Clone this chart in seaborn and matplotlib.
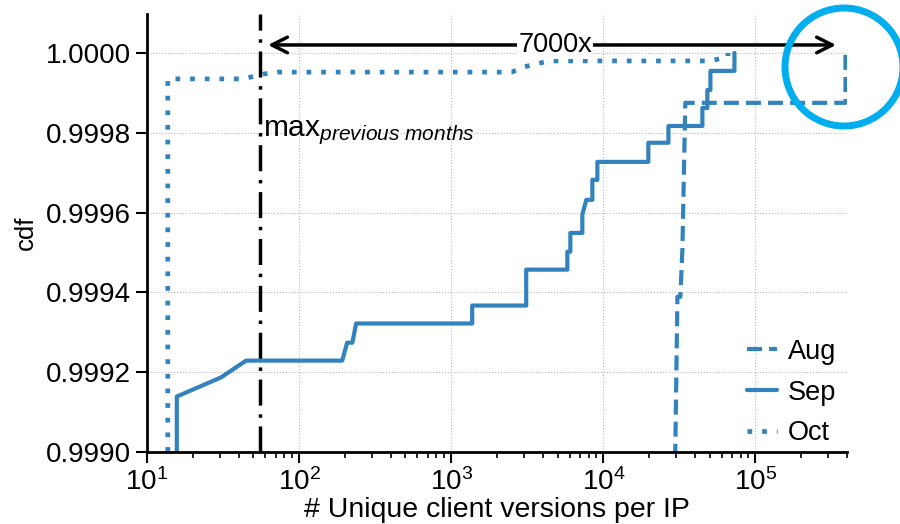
import numpy as np
import pandas as pd
import seaborn as sns
import matplotlib.pyplot as plt
from matplotlib.patches import Ellipse
from matplotlib.lines import Line2D

# CDF points (x = # unique client versions per IP)
aug_x = [28500, 30700, 32100, 33100, 34600, 391000, 391000]
aug_y = [0.9985, 0.999389, 0.999389, 0.999507, 0.999875, 0.999875, 1.0]

sep_x = [15.7, 15.7, 30.7, 44.8, 192, 207, 224, 237, 1374, 1374, 3112, 3112,
         5800, 5800, 6070, 6070, 7280, 7280, 7730, 8470, 8470, 9140, 9140, 19770, 19770,
         26800, 26800, 44800, 44800, 48300, 48300, 50600, 50600, 72800, 72800]
sep_y = [0.998, 0.999139, 0.999187, 0.999229, 0.999229, 0.999274, 0.999274, 0.999322,
         0.999322, 0.999367, 0.999367, 0.999457, 0.999457, 0.999502, 0.999502, 0.999549,
         0.999549, 0.999595, 0.999632, 0.999632, 0.999682, 0.999682, 0.999727, 0.999727,
         0.999775, 0.999775, 0.999817, 0.999817, 0.999862, 0.999862, 0.999907, 0.999907,
         0.999955, 0.999955, 1.0]

oct_x = [13.7, 13.7, 43, 58, 72, 2500, 3000, 4400, 50000, 66000, 66000]
oct_y = [0.998, 0.999935, 0.999935, 0.999947, 0.999952, 0.999952, 0.999965,
         0.99998, 0.99998, 0.99999, 1.0]

prev_max = 55
factor = 7000

blue = "#3182bd"

sns.set_theme(style="ticks")
plt.rcParams["font.family"] = ["Liberation Sans", "DejaVu Sans"]
plt.rcParams["mathtext.fontset"] = "custom"
plt.rcParams["mathtext.rm"] = "Liberation Sans"
plt.rcParams["mathtext.it"] = "Liberation Sans:italic"
for k in ["text.color", "axes.labelcolor", "xtick.color", "ytick.color"]:
    plt.rcParams[k] = "black"

fig = plt.figure(figsize=(9, 5.24), dpi=100)
ax = fig.add_axes([147 / 900, 1 - 452 / 524, 700 / 900, 438 / 524])

lw = 3
ls_aug = (0, (3.6, 1.7))
ls_oct = (0, (1.0, 2.1))
sns.lineplot(x=aug_x, y=aug_y, ax=ax, color=blue, lw=lw, linestyle=ls_aug,
             estimator=None, sort=False)
sns.lineplot(x=sep_x, y=sep_y, ax=ax, color=blue, lw=lw, linestyle="-",
             estimator=None, sort=False)
sns.lineplot(x=oct_x, y=oct_y, ax=ax, color=blue, lw=3.4, linestyle=ls_oct,
             estimator=None, sort=False)

ax.axvline(prev_max, color="black", lw=2.5, linestyle=(0, (7.5, 2.5, 1, 2.5)))

ax.set_xscale("log")
ax.set_xlim(10, 4.0e5)
ax.set_ylim(0.999, 1.0000976)
yt = [0.999, 0.9992, 0.9994, 0.9996, 0.9998, 1.0]
ax.set_yticks(yt)
ax.set_yticklabels(["%.4f" % v for v in yt])

ax.grid(True, which="major", color="#bbbbbb", linestyle=":", lw=0.8)
sns.despine(ax=ax)
for s in ["left", "bottom"]:
    ax.spines[s].set_color("black")
    ax.spines[s].set_linewidth(2)
ax.tick_params(axis="both", which="major", labelsize=20, length=8, width=1.5, color="black")
ax.tick_params(axis="x", which="minor", length=4.5, width=1.2, color="black")

ax.set_xlabel("# Unique client versions per IP", fontsize=20.5, labelpad=1)
ax.set_ylabel("cdf", fontsize=18.5, labelpad=6)

# 7000x arrow
ya = 1.00002
ax.annotate("", xy=(prev_max, ya), xytext=(prev_max * factor, ya),
            arrowprops=dict(arrowstyle="<->", lw=2.5, color="black",
                            mutation_scale=28, shrinkA=6, shrinkB=6))
ax.text(np.sqrt(prev_max * prev_max * factor) * 1.05, ya, "%dx" % factor, fontsize=19.5,
        ha="center", va="center",
        bbox=dict(facecolor="white", edgecolor="none", pad=1))

ax.text(prev_max * 1.05, 0.99980, r"max$_{\mathit{previous\ months}}$",
        fontsize=21.5, ha="left", va="center")

handles = [Line2D([], [], color=blue, lw=lw, linestyle=ls_aug),
           Line2D([], [], color=blue, lw=lw, linestyle="-"),
           Line2D([], [], color=blue, lw=3.4, linestyle=ls_oct)]
ax.legend(handles, ["Aug", "Sep", "Oct"], loc="lower right", frameon=False,
          fontsize=19.5, handlelength=1.1, handletextpad=0.4, labelspacing=0.55,
          borderaxespad=0, bbox_to_anchor=(1.0, -0.012))

circ = Ellipse((844 / 900, 1 - 67 / 524), width=118 / 900, height=118 / 524,
               transform=fig.transFigure, fill=False, edgecolor="#00AEEF", lw=5)
fig.patches.append(circ)

fig.savefig("out.png", dpi=100)
